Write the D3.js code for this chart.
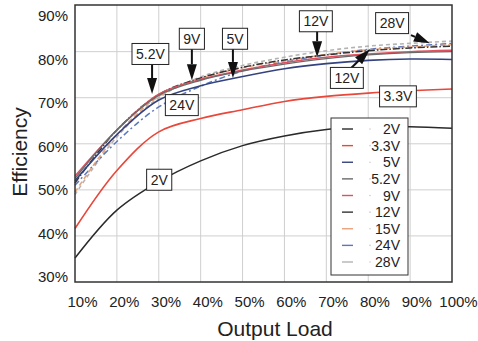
<!DOCTYPE html>
<html>
<head>
<meta charset="utf-8">
<script src="https://cdn.jsdelivr.net/npm/d3@7"></script>
<style>
  body { margin: 0; background: #fff; }
  svg { display: block; font-family: "Liberation Sans", Arial, sans-serif; }
</style>
</head>
<body>
<svg id="chart" width="478" height="341"></svg>
<script>
// ---- data ----
const loads = [10, 20, 30, 40, 50, 60, 70, 80, 90, 100];
const xTicks = [10, 20, 30, 40, 50, 60, 70, 80, 90, 100];
const yTicks = [30, 40, 50, 60, 70, 80, 90];
const seriesNames = ["2V", "3.3V", "5V", "5.2V", "9V", "12V", "15V", "24V", "28V"];
const v2V   = [35.2, 45.6, 51.8, 56.3, 59.6, 61.7, 63.1, 63.8, 63.7, 63.4];
const v3_3V = [41.6, 54.2, 62.6, 65.5, 67.4, 69.2, 70.3, 71.0, 71.5, 71.9];
const v5V   = [52.0, 62.0, 69.5, 72.6, 74.6, 76.3, 77.4, 78.1, 78.4, 78.3];
const v5_2V = [52.5, 63.0, 70.5, 73.8, 75.8, 77.3, 78.5, 79.3, 79.8, 80.0];
const v9V   = [53.0, 63.0, 70.8, 74.0, 76.0, 77.6, 78.8, 79.5, 80.0, 80.3];
const v12V  = [51.5, 63.0, 70.7, 74.3, 76.6, 78.2, 79.3, 80.2, 80.8, 81.2];
const v15V  = [49.5, 62.0, 70.3, 74.2, 76.5, 78.0, 79.4, 80.4, 81.0, 81.5];
const v24V  = [51.0, 60.5, 68.0, 72.5, 75.8, 77.8, 79.3, 80.5, 81.2, 81.8];
const v28V  = [49.0, 61.5, 70.0, 74.5, 77.0, 78.8, 80.2, 81.2, 81.8, 82.3];
const seriesValues = [v2V, v3_3V, v5V, v5_2V, v9V, v12V, v15V, v24V, v28V];
// annotations: label, box centre (load %, efficiency %), arrow tail and tip (or null)
const annLabels = ["5.2V", "9V", "5V", "12V", "28V", "12V", "3.3V", "24V", "2V"];
const annBox  = [[28.0, 79.5], [37.9, 82.8], [48.2, 82.8], [67.5, 86.6], [85.7, 86.2], [74.9, 74.3], [87.1, 70.3], [35.5, 68.4], [30.1, 52.2]];
const annTail = [[28.4, 78.3], [37.9, 80.8], [47.7, 80.8], [67.8, 84.5], [90.2, 83.6], [76.0, 76.5], null, null, null];
const annTip  = [[28.4, 70.8], [37.9, 73.8], [47.7, 74.3], [67.8, 78.8], [94.7, 81.8], [80.4, 80.5], null, null, null];

// ---- styles ----
const colors = ["#2a2a2a", "#e8473a", "#34427e", "#6a6a6a", "#e0505e", "#333333", "#e9a27a", "#5b78bf", "#b4b4b4"];
const dashes = [null, null, null, null, null, "7,2,1.5,2", "5,3", "6,3,2,3", "4,3"];
const widths = [1.5, 1.6, 1.6, 1.4, 1.5, 1.5, 1.5, 1.5, 1.6];

const svg = d3.select("#chart");
const L = 75, R = 452, T = 5, B = 282;

const x = d3.scaleLinear().domain([10, 100]).range([L, R]);
const y = d3.scaleLinear().domain([30, 90]).range([B, 5.6]);
// tick-label scales (the labels in the original sit slightly off the grid)
const xLab = d3.scaleLinear().domain([10, 100]).range([82, 458]);
const yLab = d3.scaleLinear().domain([30, 90]).range([277, 16]);

// grid
const grid = svg.append("g").attr("stroke", "#cfcfcf").attr("stroke-width", 1);
grid.selectAll("line.v").data(xTicks.slice(1, -1)).join("line")
  .attr("x1", d => x(d)).attr("x2", d => x(d)).attr("y1", T).attr("y2", B);
grid.selectAll("line.h").data(yTicks.slice(1, -1)).join("line")
  .attr("class", "h")
  .attr("x1", L).attr("x2", R).attr("y1", d => y(d)).attr("y2", d => y(d));

// lines
const line = d3.line().x((d, i) => x(loads[i])).y(d => y(d)).curve(d3.curveCatmullRom.alpha(0.5));
const order = [8, 7, 6, 5, 4, 3, 2, 1, 0];
svg.append("g").selectAll("path").data(order).join("path")
  .attr("d", k => line(seriesValues[k]))
  .attr("fill", "none")
  .attr("stroke", k => colors[k])
  .attr("stroke-width", k => widths[k])
  .attr("stroke-dasharray", k => dashes[k]);

// frame
svg.append("rect").attr("x", L).attr("y", T).attr("width", R - L).attr("height", B - T)
  .attr("fill", "none").attr("stroke", "#333").attr("stroke-width", 1.5);

// axes labels
const xAxis = svg.append("g").attr("transform", `translate(0,${296.5})`)
  .call(d3.axisBottom(xLab).tickValues(xTicks).tickSize(0).tickPadding(0).tickFormat(d => d + "%"));
xAxis.select(".domain").remove();
xAxis.selectAll("text").attr("font-size", 15).attr("fill", "#222").attr("font-family", "Liberation Sans, Arial, sans-serif");

const yAxis = svg.append("g").attr("transform", `translate(68,0)`)
  .call(d3.axisLeft(yLab).tickValues(yTicks).tickSize(0).tickPadding(0).tickFormat(d => d + "%"));
yAxis.select(".domain").remove();
yAxis.selectAll("text").attr("font-size", 15).attr("fill", "#222").attr("font-family", "Liberation Sans, Arial, sans-serif");

svg.append("text").attr("x", 275).attr("y", 336).attr("text-anchor", "middle")
  .attr("font-size", 21).attr("fill", "#222").text("Output Load");
svg.append("text").attr("transform", "translate(27,152) rotate(-90)").attr("text-anchor", "middle")
  .attr("font-size", 21).attr("fill", "#222").text("Efficiency");

// legend
const lg = svg.append("g");
lg.append("rect").attr("x", 331).attr("y", 118).attr("width", 77).attr("height", 157)
  .attr("fill", "#fff").attr("stroke", "#333").attr("stroke-width", 1);
const ly = d3.scalePoint().domain(seriesNames).range([129, 262]);
const items = lg.selectAll("g.item").data(seriesNames).join("g").attr("class", "item");
items.append("line").attr("x1", 342).attr("x2", 353)
  .attr("y1", d => ly(d)).attr("y2", d => ly(d))
  .attr("stroke", (d, i) => colors[i]).attr("stroke-width", 1.4);
items.append("circle").attr("cx", 370).attr("cy", d => ly(d)).attr("r", 0.8).attr("fill", "#ccc");
items.append("text").attr("x", 400).attr("y", d => ly(d)).attr("dy", "0.36em")
  .attr("text-anchor", "end").attr("font-size", 14).attr("fill", "#222").text(d => d);

// annotations
const ann = svg.append("g");
annLabels.forEach((lab, i) => {
  if (annTip[i]) {
    const [tx, ty] = [x(annTail[i][0]), y(annTail[i][1])];
    const [px, py] = [x(annTip[i][0]), y(annTip[i][1])];
    const ang = Math.atan2(py - ty, px - tx);
    const hl = 16, hw = 5;
    const bx = px - hl * Math.cos(ang), by = py - hl * Math.sin(ang);
    ann.append("line").attr("x1", tx).attr("y1", ty).attr("x2", bx).attr("y2", by)
      .attr("stroke", "#111").attr("stroke-width", 2);
    const nx = -Math.sin(ang), ny = Math.cos(ang);
    ann.append("path")
      .attr("d", `M${px},${py}L${bx + nx * hw},${by + ny * hw}L${bx - nx * hw},${by - ny * hw}Z`)
      .attr("fill", "#111");
  }
});
annLabels.forEach((lab, i) => {
  const cx = x(annBox[i][0]), cy = y(annBox[i][1]);
  const t = ann.append("text").attr("x", cx).attr("y", cy).attr("dy", "0.36em")
    .attr("text-anchor", "middle").attr("font-size", 14).attr("fill", "#222").text(lab);
  const w = t.node().getComputedTextLength() + 8, h = 21;
  ann.insert("rect", () => t.node()).attr("x", cx - w / 2).attr("y", cy - h / 2)
    .attr("width", w).attr("height", h).attr("fill", "#fff").attr("stroke", "#222").attr("stroke-width", 1);
});
</script>
</body>
</html>
